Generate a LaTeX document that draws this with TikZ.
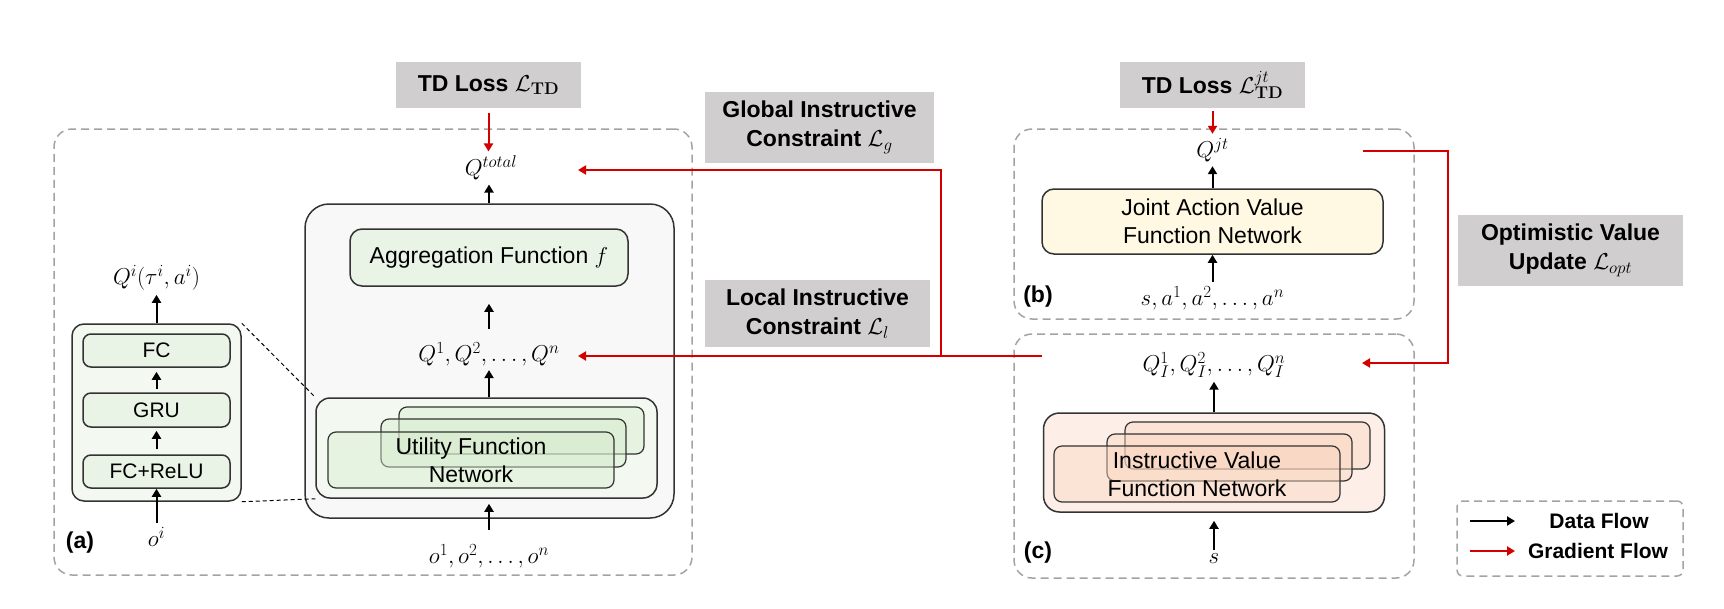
\documentclass[tikz,border=0pt]{standalone}
\usepackage{fix-cm}
\usepackage[no-math]{fontspec}
\setmainfont{Liberation Sans}
\DeclareMathSizes{23}{23}{17}{14}
\usetikzlibrary{arrows.meta}
\definecolor{titlegray}{HTML}{D0CECE}
\definecolor{framegray}{HTML}{A3A3A3}
\definecolor{gradred}{HTML}{D40000}
\definecolor{mixfill}{HTML}{F8F8F8}
\definecolor{greenfill}{HTML}{EAF4E6}
\definecolor{greenpale}{HTML}{F3F9F1}
\definecolor{greenstack}{HTML}{D6ECCD}
\definecolor{jointfill}{HTML}{FFF8E2}
\definecolor{insfill}{HTML}{FDEFE7}
\definecolor{insstack}{HTML}{F9D6C0}

\begin{document}
\begin{tikzpicture}[x=1pt, y=-1pt,
    title/.style={fill=titlegray, inner sep=0pt, align=center, font=\fontsize{23}{29}\selectfont\bfseries},
    frame/.style={draw=framegray, line width=1.5pt, dash pattern=on 8pt off 5pt, rounded corners=18pt, inner sep=0pt},
    netbox/.style={draw=black!80, line width=1.5pt, inner sep=0pt, align=center, font=\fontsize{23}{28}\selectfont},
    layerbox/.style={netbox, fill=greenfill, rounded corners=8pt, minimum width=147pt, font=\fontsize{21}{25}\selectfont},
    stackbox/.style={draw=black!80, line width=1.2pt, rounded corners=8pt, inner sep=0pt, fill opacity=0.45, text opacity=1, align=center, font=\fontsize{23}{28}\selectfont},
    mathtxt/.style={inner sep=4pt, font=\fontsize{23}{27}\selectfont},
    panel/.style={inner sep=0pt, font=\fontsize{23}{27}\selectfont\bfseries},
    legtxt/.style={inner sep=0pt, font=\fontsize{21}{25}\selectfont\bfseries},
    data/.style={-{Triangle[length=8pt,width=9pt]}, line width=2pt},
    grad/.style={-{Triangle[length=8pt,width=9pt]}, line width=2pt, draw=gradred}
]
    \useasboundingbox (0,0) rectangle (1724,608);

    % loss and constraint labels
    \node[title, minimum width=185pt, minimum height=46pt] (tdloss) at (488.5,85) {TD Loss $\mathcal{L}_{\mathbf{TD}}$};
    \node[title, minimum width=185pt, minimum height=46pt] (tdjt) at (1212.5,85) {TD Loss $\mathcal{L}^{jt}_{\mathbf{TD}}$};
    \node[title, minimum width=229pt, minimum height=71pt] (globalc) at (819.5,127.5) {Global Instructive\\Constraint $\mathcal{L}_g$};
    \node[title, minimum width=225pt, minimum height=67pt] (localc) at (817.5,313.5) {Local Instructive\\Constraint $\mathcal{L}_l$};
    \node[title, minimum width=225pt, minimum height=71pt] (optc) at (1570.5,250.5) {Optimistic Value\\Update $\mathcal{L}_{opt}$};

    % dashed panels
    \node[frame, minimum width=638pt, minimum height=446pt] (boxa) at (373,352) {};
    \node[frame, minimum width=400pt, minimum height=190pt] (boxb) at (1214,224) {};
    \node[frame, minimum width=400pt, minimum height=244pt] (boxc) at (1214,456) {};
    \node[frame, rounded corners=6pt, minimum width=226pt, minimum height=75pt] (legend) at (1570,538.5) {};

    % (a) mixing side
    \node[mathtxt] (qtotal) at (491,168) {$Q^{total}$};
    \node[netbox, fill=mixfill, rounded corners=24pt, minimum width=369pt, minimum height=314pt] (mixbox) at (489.5,361) {};
    \node[netbox, fill=greenfill, rounded corners=12pt, minimum width=278pt, minimum height=57pt] (aggf) at (489,257.5) {Aggregation Function $f$};
    \node[mathtxt] (qall) at (489,354) {$Q^1,Q^2,\dots,Q^n$};
    \node[netbox, fill=greenpale, rounded corners=14pt, minimum width=341pt, minimum height=100pt] (utilbox) at (486.5,448) {};
    \node[stackbox, fill=greenstack, minimum width=245pt, minimum height=47pt] (util3) at (521.5,430.5) {};
    \node[stackbox, fill=greenstack, minimum width=245pt, minimum height=48pt] (util2) at (503.5,443) {};
    \node[stackbox, fill=greenstack, minimum width=286pt, minimum height=56pt] (util1) at (471,460) {Utility Function\\Network};
    \node[mathtxt] (oall) at (489,556) {$o^1,o^2,\dots,o^n$};
    \node[panel] (labela) at (80,543) {(a)};

    % (a) agent network
    \node[netbox, fill=greenpale, rounded corners=12pt, minimum width=169pt, minimum height=177pt] (agent) at (156.5,412.5) {};
    \node[layerbox, minimum height=33pt] (fc) at (156.5,350.5) {FC};
    \node[layerbox, minimum height=34pt] (gru) at (156.5,410) {GRU};
    \node[layerbox, minimum height=33pt] (fcrelu) at (156.5,471.5) {FC+ReLU};
    \node[mathtxt] (oi) at (156.5,537) {$o^i$};
    \node[mathtxt] (qi) at (156.5,278) {$Q^i(\tau^i,a^i)$};

    \draw[line width=1pt, dash pattern=on 4pt off 3pt] (agent.north east) -- (utilbox.north west);
    \draw[line width=1pt, dash pattern=on 4pt off 3pt] (agent.south east) -- (utilbox.south west);

    \draw[data] (qall.north |- mixbox.north) -- (qall.north |- qtotal.south);
    \draw[data, shorten <=9pt, shorten >=17pt] (qall.north) -- (aggf.south);
    \draw[data] (qall.south |- utilbox.north) -- (qall.south);
    \draw[data, shorten <=10pt, shorten >=-15pt] (oall.north) -- (oall.north |- mixbox.south);
    \draw[data, shorten <=5pt, shorten >=3pt] (fcrelu.north) -- (gru.south);
    \draw[data, shorten <=3pt, shorten >=4pt] (gru.north) -- (fc.south);
    \draw[data] (oi.north) -- (fcrelu.south);
    \draw[data] (agent.north) -- (qi.south);

    % (b) joint value
    \node[mathtxt] (qjt) at (1212.5,150) {$Q^{jt}$};
    \node[netbox, fill=jointfill, rounded corners=12pt, minimum width=341pt, minimum height=65pt] (joint) at (1212.5,221.5) {Joint Action Value\\Function Network};
    \node[mathtxt] (sa) at (1212.5,298) {$s,a^1,a^2,\dots,a^n$};
    \node[panel] (labelb) at (1038,297) {(b)};
    \draw[data] (joint.north) -- (qjt.south);
    \draw[data] (sa.north) -- (joint.south);

    % (c) instructive value
    \node[mathtxt] (qI) at (1214,365) {$Q_I^1,Q_I^2,\dots,Q_I^n$};
    \node[netbox, fill=insfill, rounded corners=16pt, minimum width=341pt, minimum height=99pt] (instr) at (1214,462.5) {};
    \node[stackbox, fill=insstack, minimum width=245pt, minimum height=47pt] (ins3) at (1247.5,445.5) {};
    \node[stackbox, fill=insstack, minimum width=245pt, minimum height=47pt] (ins2) at (1229.5,457.5) {};
    \node[stackbox, fill=insstack, minimum width=286pt, minimum height=56pt] (ins1) at (1197,474) {Instructive Value\\Function Network};
    \node[mathtxt] (s) at (1214,559) {$s$};
    \node[panel] (labelc) at (1038,553) {(c)};
    \draw[data] (instr.north) -- (qI.south);
    \draw[data, shorten >=8pt] (s.north) -- (instr.south);

    % gradient flow
    \draw[grad, shorten <=5pt] (tdloss.south) -- (tdloss.south |- qtotal.north);
    \draw[grad, shorten <=3pt] (tdjt.south) -- (qjt.north);
    \coordinate (cout) at (1042,356);
    \coordinate (branch) at (941,356);
    \coordinate (qallin) at (578,356);
    \coordinate (qtotin) at (578,170);
    \draw[grad] (cout) -- (qallin);
    \draw[grad] (branch) |- (qtotin);
    \coordinate (jtout) at (1363,151);
    \coordinate (iin) at (1362,363);
    \draw[grad] (jtout) -- ++(85,0) |- (iin);

    % legend
    \coordinate (dfs) at (1470,521);
    \coordinate (dfe) at (1515,521);
    \coordinate (gfs) at (1470,551);
    \coordinate (gfe) at (1515,551);
    \draw[data] (dfs) -- (dfe);
    \draw[grad] (gfs) -- (gfe);
    \node[legtxt] (dftext) at (1599,521) {Data Flow};
    \node[legtxt] (gftext) at (1598,551) {Gradient Flow};
\end{tikzpicture}
\end{document}
